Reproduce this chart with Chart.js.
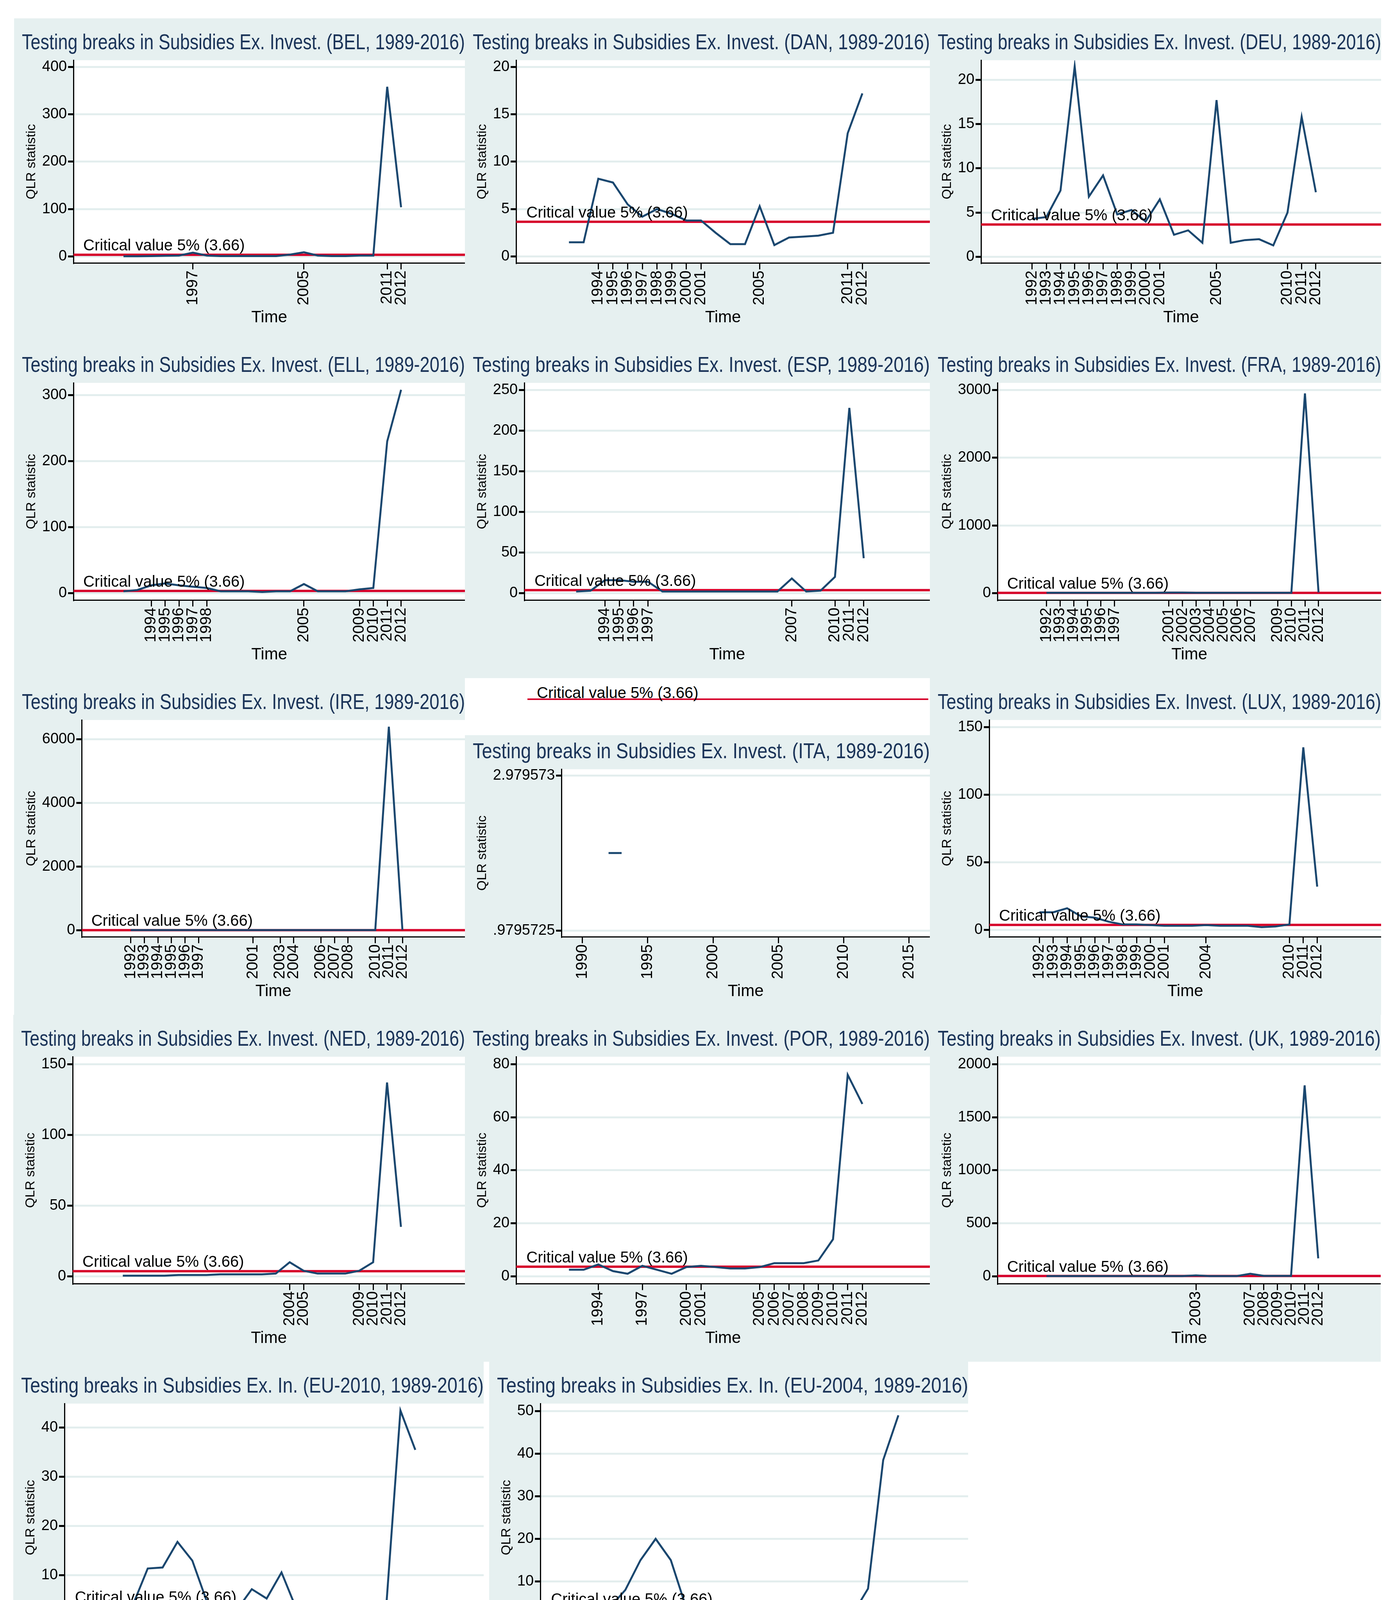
<!DOCTYPE html>
<html><head><meta charset="utf-8">
<script src="https://cdn.jsdelivr.net/npm/chart.js@4.4.1/dist/chart.umd.min.js"></script>
<style>
body{margin:0;background:#fff;width:3568px;height:4381px;position:relative;overflow:hidden}
.panel{position:absolute;background:#e6f0f0}
.panel canvas{position:absolute;left:0;top:0}
#itaStrip{position:absolute;left:1246px;top:1775px;width:1140px;height:107px;background:#fff}
#itaStrip .ln{position:absolute;left:104px;right:10px;top:13px;height:4px;background:#d6002a}
#itaStrip .tx{position:absolute;left:128px;top:-24px;font:40px "Liberation Sans Narrow",sans-serif;color:#000}
</style></head><body>
<div id="itaStrip"><div class="ln"></div><div class="tx">Critical value 5% (3.66)</div></div>
<script>
// 年 (1992-2012)
const YEARS = [1992,1993,1994,1995,1996,1997,1998,1999,2000,2001,2002,2003,2004,2005,2006,2007,2008,2009,2010,2011,2012];
const CRIT = 3.66;

// QLR値
const belVals = [0.5,0.6,1,1.5,2,8,2,1,1,1,1,1,4,9,2,1,1,2,2,358,104];
const danVals = [1.5,1.5,8.2,7.8,5.5,4.2,5,4.5,3.8,3.8,2.5,1.3,1.3,5.3,1.2,2,2.1,2.2,2.5,13,17.2];
const deuVals = [4.3,4.5,7.5,21.5,6.8,9.2,4.8,5.3,4,6.5,2.5,3,1.6,17.7,1.6,1.9,2,1.3,5,15.8,7.3];
const ellVals = [3,5,12,15,12,10,8,3,3,3,2,3,3,14,3,3,3,6,8,230,308];
const espVals = [2,3,16,16,14,14,2,2,2,2,2,2,2,2,2,18,2,3,20,228,43];
const fraVals = [5,5,5,5,5,5,5,5,5,8,8,5,5,5,5,5,5,5,5,2950,10];
const ireVals = [5,5,5,5,5,5,5,5,5,5,5,5,5,5,5,5,5,5,5,6400,10];
const itaVals = [1.98,1.98,null,null,null,null,null,null,null,null,null,null,null,null,null,null,null,null,null,null,null];
const luxVals = [13,13,16,10,9,6,4,4,3.5,3,3,3,3.5,3,3,3,2,2.5,4,135,32];
const nedVals = [0.5,0.5,0.5,0.5,1,1,1,1.5,1.5,1.5,1.5,2,10,4,2,2,2,4,10,137,35];
const porVals = [2.5,2.5,4.5,2,1,4,2.5,1,3.5,4,3.5,3,3,3.5,5,5,5,6,14,76,65];
const ukVals = [3,3,3,3,3,3,3,3,3,3,3,10,3,3,3,25,5,5,5,1800,170];
const eu10Vals = [4,4,11.4,11.6,16.8,13,4.5,2.8,3,7.2,5.3,10.6,3.2,3.2,3.5,3.5,2.2,1.3,1.8,43.5,35.5];
const eu04Vals = [4,4,8,15,20,15,4,2.5,2.5,3.3,4.3,3.5,2.5,3,3.2,2.2,1.6,2.4,8.3,38.5,49];

// x軸の目盛り
const belX = [1997,2005,2011,2012];
const danX = [1994,1995,1996,1997,1998,1999,2000,2001,2005,2011,2012];
const deuX = [1992,1993,1994,1995,1996,1997,1998,1999,2000,2001,2005,2010,2011,2012];
const ellX = [1994,1995,1996,1997,1998,2005,2009,2010,2011,2012];
const espX = [1994,1995,1996,1997,2007,2010,2011,2012];
const fraX = [1992,1993,1994,1995,1996,1997,2001,2002,2003,2004,2005,2006,2007,2009,2010,2011,2012];
const ireX = [1992,1993,1994,1995,1996,1997,2001,2003,2004,2006,2007,2008,2010,2011,2012];
const itaX = [1990,1995,2000,2005,2010,2015];
const luxX = [1992,1993,1994,1995,1996,1997,1998,1999,2000,2001,2004,2010,2011,2012];
const nedX = [2004,2005,2009,2010,2011,2012];
const porX = [1994,1997,2000,2001,2005,2006,2007,2008,2009,2010,2011,2012];
const ukX = [2003,2007,2008,2009,2010,2011,2012];
const eu10X = [1992,1993,1994,1995,1996,1997,1998,2001,2002,2003,2011,2012];
const eu04X = [1992,1993,1994,1995,1996,1997,2002,2010,2011,2012];

// y軸の目盛り
const belY = [0,100,200,300,400];
const danY = [0,5,10,15,20];
const deuY = [0,5,10,15,20];
const ellY = [0,100,200,300];
const espY = [0,50,100,150,200,250];
const fraY = [0,1000,2000,3000];
const ireY = [0,2000,4000,6000];
const itaY = [0.9795725,2.979573];
const luxY = [0,50,100,150];
const nedY = [0,50,100,150];
const porY = [0,20,40,60,80];
const ukY = [0,500,1000,1500,2000];
const eu10Y = [0,10,20,30,40];
const eu04Y = [0,10,20,30,40,50];

const T = 'Testing breaks in Subsidies Ex. Invest. ';
const PANELS = [
  { t:T+'(BEL, 1989-2016)', v:belVals, x:belX, y:belY, box:[36,47,1154,826] },
  { t:T+'(DAN, 1989-2016)', v:danVals, x:danX, y:danY, box:[1190,47,1190,826] },
  { t:T+'(DEU, 1989-2016)', v:deuVals, x:deuX, y:deuY, box:[2380,47,1155,826] },
  { t:T+'(ELL, 1989-2016)', v:ellVals, x:ellX, y:ellY, box:[36,873,1154,863] },
  { t:T+'(ESP, 1989-2016)', v:espVals, x:espX, y:espY, box:[1190,873,1190,863] },
  { t:T+'(FRA, 1989-2016)', v:fraVals, x:fraX, y:fraY, box:[2380,873,1155,863] },
  { t:T+'(IRE, 1989-2016)', v:ireVals, x:ireX, y:ireY, box:[36,1736,1154,862] },
  { t:T+'(ITA, 1989-2016)', v:itaVals, x:itaX, y:itaY, box:[1190,1882,1190,716], ita:true },
  { t:T+'(LUX, 1989-2016)', v:luxVals, x:luxX, y:luxY, box:[2380,1736,1155,862] },
  { t:T+'(NED, 1989-2016)', v:nedVals, x:nedX, y:nedY, box:[34,2598,1156,888] },
  { t:T+'(POR, 1989-2016)', v:porVals, x:porX, y:porY, box:[1190,2598,1190,888] },
  { t:T+'(UK, 1989-2016)', v:ukVals, x:ukX, y:ukY, box:[2380,2598,1154,888] },
  { t:'Testing breaks in Subsidies Ex. In. (EU-2010, 1989-2016)', v:eu10Vals, x:eu10X, y:eu10Y, box:[34,3486,1204,890] },
  { t:'Testing breaks in Subsidies Ex. In. (EU-2004, 1989-2016)', v:eu04Vals, x:eu04X, y:eu04Y, box:[1252,3486,1226,890] }
];

// 描画エリアを白に
const whiteArea = {
  id:'whiteArea',
  beforeDraw(c){ const a=c.chartArea, g=c.ctx; g.save(); g.fillStyle='#fff'; g.fillRect(a.left,a.top,a.right-a.left,a.bottom-a.top); g.restore(); }
};
// 臨界値のラベル
const critLabel = {
  id:'critLabel',
  afterDatasetsDraw(c){
    if (c.config.options.plugins.critLabel.hide) return;
    const g=c.ctx, xs=c.scales.x, ys=c.scales.y;
    g.save(); g.font='40px "Liberation Sans Narrow", sans-serif'; g.fillStyle='#000'; g.textBaseline='bottom';
    g.fillText('Critical value 5% (3.66)', xs.getPixelForValue(1989.1), ys.getPixelForValue(CRIT)-2);
    g.restore();
  }
};

PANELS.forEach(p => {
  const d = document.createElement('div');
  d.className='panel';
  const [l,t,w,h] = p.box;
  Object.assign(d.style,{left:l+'px',top:t+'px',width:w+'px',height:h+'px'});
  const cv = document.createElement('canvas');
  cv.width=w; cv.height=h; cv.style.width=w+'px'; cv.style.height=h+'px';
  d.appendChild(cv); document.body.appendChild(d);
  const yTop = p.y[p.y.length-1], yBot = p.y[0];
  const span = yTop - yBot;
  const yMin = p.ita ? yBot-0.04*span : yBot-0.035*span;
  const yMax = p.ita ? yTop+0.04*span : Math.max(yTop, ...p.v.filter(v=>v!=null))+0.035*span;
  const lineData = YEARS.map((yr,i)=>({x:yr,y:p.v[i]}));
  const datasets = [{ data:lineData, borderColor:'#1a476f', borderWidth:5, pointRadius:0, spanGaps:false }];
  if (!p.ita) datasets.push({ data:[{x:1988.4,y:CRIT},{x:2016.6,y:CRIT}], borderColor:'#d6002a', borderWidth:6, pointRadius:0 });
  new Chart(cv, {
    type:'line',
    data:{ datasets },
    plugins:[whiteArea, critLabel],
    options:{
      responsive:false, animation:false, devicePixelRatio:1,
      layout:{ padding:{ left:20, right:0, top:0, bottom:30 } },
      plugins:{
        legend:{ display:false }, tooltip:{ enabled:false },
        critLabel:{ hide: !!p.ita },
        title:{ display:true, text:p.t, color:'#1a3358',
                font:{ family:'"Liberation Sans Narrow", sans-serif', size:56, weight:'normal' },
                padding:{ top: p.ita ? 10 : 30, bottom:10 } }
      },
      scales:{
        x:{ type:'linear', min:1988.4, max:2016.6,
            afterBuildTicks:s=>{ s.ticks = p.x.map(v=>({value:v})); },
            ticks:{ autoSkip:false, minRotation:90, maxRotation:90, color:'#000', font:{ family:'Liberation Sans', size:40 }, callback:v=>String(v) },
            grid:{ drawOnChartArea:false, tickColor:'#000', tickLength:16, lineWidth:3 },
            border:{ color:'#000', width:3 },
            title:{ display:true, text:'Time', color:'#000', font:{ family:'"Liberation Sans Narrow", sans-serif', size:42 } } },
        y:{ min:yMin, max:yMax,
            afterBuildTicks:s=>{ s.ticks = p.y.map(v=>({value:v})); },
            ticks:{ color:'#000', font:{ family:'Liberation Sans', size:38 },
                    callback:v=> p.ita ? (v<1 ? '.9795725' : '2.979573') : String(v) },
            grid:{ color:'#e3eeee', lineWidth:5, tickColor:'#000', tickLength:14 },
            border:{ color:'#000', width:3 },
            title:{ display:true, text:'QLR statistic', color:'#000', font:{ family:'Liberation Sans', size:34 } } }
      }
    }
  });
});
</script>
</body></html>
